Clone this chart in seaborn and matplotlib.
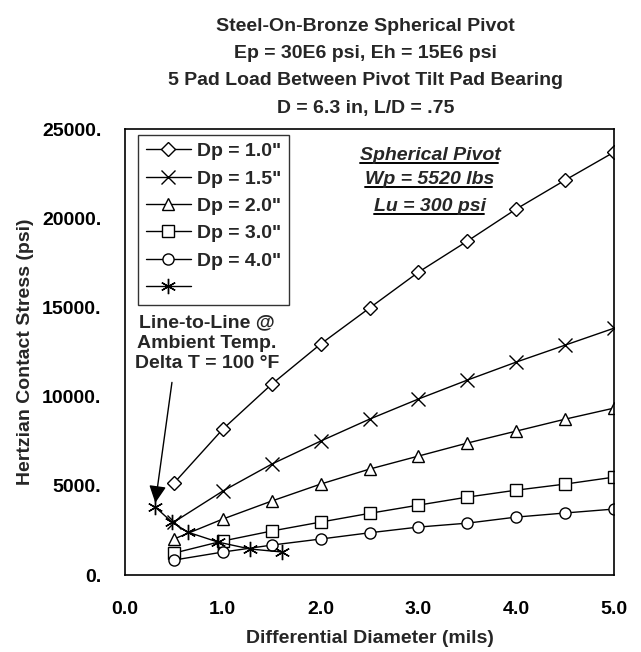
import matplotlib
matplotlib.use("Agg")
import matplotlib.pyplot as plt
import seaborn as sns
import pandas as pd

# differential diameter (mils)
diam = [0.5, 1.0, 1.5, 2.0, 2.5, 3.0, 3.5, 4.0, 4.5, 5.0]
dp_10 = [5150, 8180, 10700, 12950, 14970, 16980, 18720, 20520, 22140, 23710]
dp_15 = [2970, 4710, 6220, 7510, 8740, 9870, 10930, 11940, 12890, 13840]
dp_20 = [2020, 3140, 4150, 5100, 5940, 6670, 7400, 8070, 8740, 9360]
dp_30 = [1230, 1910, 2470, 2970, 3460, 3920, 4370, 4760, 5100, 5490]
dp_40 = [840, 1290, 1680, 2020, 2370, 2690, 2910, 3250, 3480, 3700]
# line-to-line at ambient temp, delta T = 100 F
ltl_x = [0.31, 0.48, 0.64, 0.95, 1.28, 1.61]
ltl_y = [3810, 2970, 2410, 1850, 1460, 1290]

labels = ['Dp = 1.0"', 'Dp = 1.5"', 'Dp = 2.0"', 'Dp = 3.0"', 'Dp = 4.0"', '']
markers = ["D", "x", "^", "s", "o", (6, 2, 0)]
sizes = [7, 10, 9, 8.5, 8, 11]

sns.set_theme(style="white")
plt.rcParams['font.family'] = ['Liberation Sans Narrow', 'Liberation Sans', 'DejaVu Sans']
plt.rcParams['font.weight'] = 'bold'

fig = plt.figure(figsize=(6.41, 6.52), dpi=100)
ax = fig.add_axes([0.195, 0.118, 0.763, 0.684])

series = [dp_10, dp_15, dp_20, dp_30, dp_40]
for i, ys in enumerate(series):
    df = pd.DataFrame({"x": diam, "y": ys})
    sns.lineplot(data=df, x="x", y="y", ax=ax, color="black", lw=1.0,
                 marker=markers[i], markersize=sizes[i], markerfacecolor="white",
                 markeredgecolor="black", markeredgewidth=1.0, label=labels[i])
df = pd.DataFrame({"x": ltl_x, "y": ltl_y})
sns.lineplot(data=df, x="x", y="y", ax=ax, color="black", lw=1.0, sort=False,
             marker=markers[5], markersize=sizes[5], markeredgecolor="black",
             markeredgewidth=1.0, label="ltl")

ax.set_xlim(0, 5.0)
ax.set_ylim(0, 25000)
ax.set_xticks([0, 1, 2, 3, 4, 5])
ax.set_xticklabels(["0.0", "1.0", "2.0", "3.0", "4.0", "5.0"])
ax.set_yticks([0, 5000, 10000, 15000, 20000, 25000])
ax.set_yticklabels(["0.", "5000.", "10000.", "15000.", "20000.", "25000."])
ax.tick_params(direction="inout", length=10, width=1, colors="black",
               labelsize=14, pad=12)
ax.tick_params(axis="x", pad=14)
for lab in ax.get_xticklabels() + ax.get_yticklabels():
    lab.set_fontweight("bold")
for s in ax.spines.values():
    s.set_color("black")
    s.set_linewidth(1.2)

ax.set_xlabel("Differential Diameter (mils)", fontsize=14, fontweight="bold", labelpad=8)
ax.set_ylabel("Hertzian Contact Stress (psi)", fontsize=14, fontweight="bold", labelpad=6)

fig.text(0.57, 0.973, "Steel-On-Bronze Spherical Pivot\nEp = 30E6 psi, Eh = 15E6 psi\n"
         "5 Pad Load Between Pivot Tilt Pad Bearing\nD = 6.3 in, L/D = .75",
         ha="center", va="top", fontsize=14, fontweight="bold", linespacing=1.8)

# boxed note, italic and underlined
fig.canvas.draw()
renderer = fig.canvas.get_renderer()
for t, yb in zip(["Spherical Pivot", "Wp = 5520 lbs", "Lu = 300 psi"], [0.930, 0.877, 0.816]):
    txt = ax.text(0.624, yb, t, transform=ax.transAxes, ha="center", va="baseline",
                  fontsize=14, fontweight="bold", style="italic")
    bb = txt.get_window_extent(renderer).transformed(ax.transAxes.inverted())
    ax.plot([bb.x0, bb.x1 - 0.005], [yb - 0.006, yb - 0.006], transform=ax.transAxes,
            color="black", lw=1.4)

ax.text(0.84, 13000, "Line-to-Line @\nAmbient Temp.\nDelta T = 100 \u00b0F",
        ha="center", va="center", fontsize=14, fontweight="bold", linespacing=1.25)
ax.annotate("", xy=(0.31, 4050), xytext=(0.48, 10800),
            arrowprops=dict(arrowstyle="-|>", color="black", lw=1,
                            mutation_scale=26, shrinkA=0, shrinkB=0))

handles, labs = ax.get_legend_handles_labels()
labs = [l if l != "ltl" else "" for l in labs]
leg = ax.legend(handles, labs, loc="upper left", bbox_to_anchor=(0.027, 0.987),
                handlelength=2.3, handletextpad=0.3, frameon=True, fancybox=False,
                edgecolor="black", borderpad=0.4, labelspacing=0.5,
                borderaxespad=0, prop={"weight": "bold", "size": 14})
leg.get_frame().set_linewidth(1.0)

fig.savefig("out.png", dpi=100)
